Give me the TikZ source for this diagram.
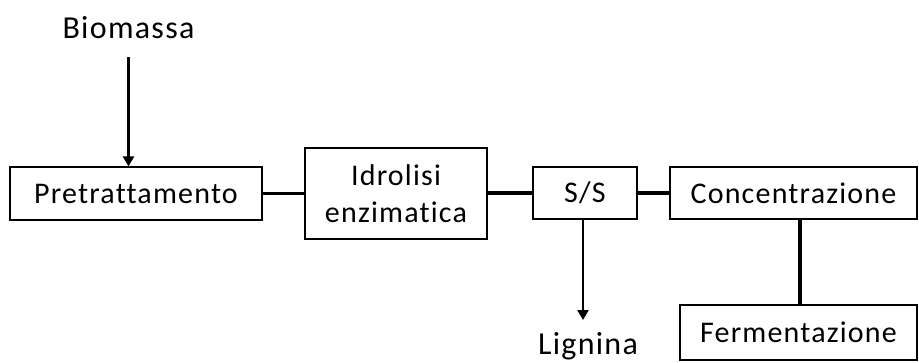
\documentclass[tikz,border=0pt]{standalone}
\usepackage{fontspec}
\setmainfont[Ligatures=CommonOff]{Carlito}
\newfontfamily\boxfont[Ligatures=CommonOff,LetterSpace=4]{Carlito}
\newfontfamily\lblfont[Ligatures=CommonOff,LetterSpace=4]{Carlito}
\usetikzlibrary{arrows.meta}
\begin{document}
\begin{tikzpicture}[x=1pt,y=-1pt,
  box/.style={draw, line width=1.3pt, inner sep=0pt, font=\boxfont\fontsize{30}{37}\selectfont, align=center},
  link/.style={line width=3.2pt},
  flow/.style={line width=2.6pt, -{Triangle[length=10pt,width=11pt]}},
  lbl/.style={font=\lblfont\fontsize{32}{38}\selectfont, inner sep=0pt, anchor=base}]
\useasboundingbox (0,0) rectangle (919,362);
\node[box, minimum width=252pt, minimum height=53pt] (pre) at (136,193.5) {Pretrattamento};
\node[box, minimum width=182pt, minimum height=91pt] (idr) at (396,193.5) {Idrolisi\\enzimatica};
\node[box, minimum width=104pt, minimum height=52pt] (ss) at (585,193) {S/S};
\node[box, minimum width=247pt, minimum height=52pt] (con) at (793.5,193) {Concentrazione};
\node[box, minimum width=237pt, minimum height=55pt] (fer) at (798.5,332.5) {Fermentazione};
\node[lbl] (bio) at (128.5,38) {Biomassa};
\node[lbl] (lig) at (588,354) {Lignina};
\coordinate (bioend) at (128.5,57);
\coordinate (ligtop) at (583,320);
\draw[flow] (bioend) -- (pre.north -| bioend);
\draw[link] (pre.east) -- (idr.west |- pre.east);
\draw[link] (idr.east |- ss.west) -- (ss.west);
\draw[link] (ss.east) -- (con.west);
\draw[flow] (ss.south -| ligtop) -- (ligtop);
\draw[link] (con.south -| 800,0) -- (fer.north -| 800,0);
\end{tikzpicture}
\end{document}
